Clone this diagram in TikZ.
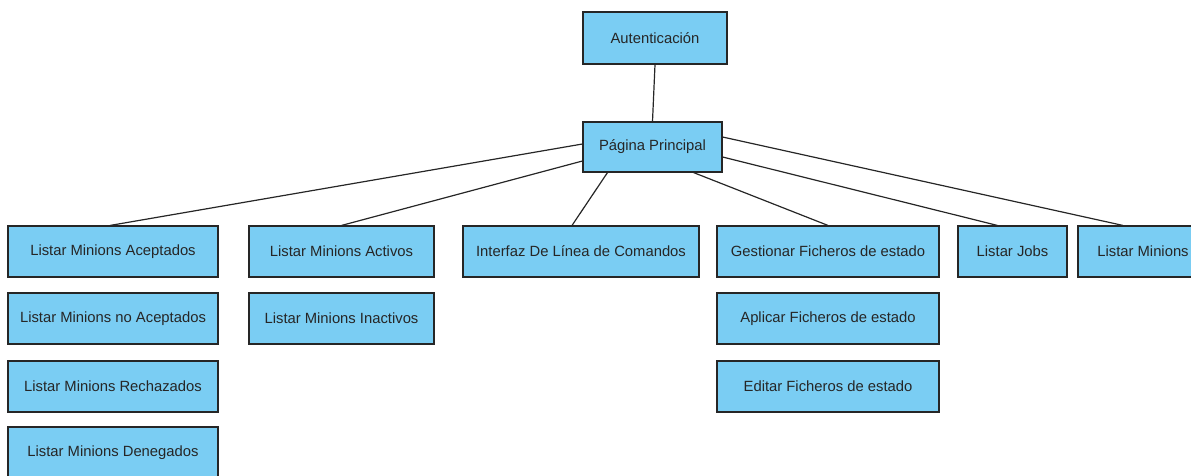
\documentclass[tikz,border=0pt]{standalone}
\usepackage{fontspec}
\setmainfont{Liberation Sans}
\definecolor{cajaazul}{RGB}{122,205,243}

\begin{document}
\begin{tikzpicture}[x=1pt, y=-1pt,
    caja/.style={draw=black!85, line width=1.1pt, fill=cajaazul, inner sep=0pt,
                 minimum height=51pt, text=black!85, font=\fontsize{14.8}{17}\selectfont},
    enlace/.style={draw=black!85, line width=1.2pt}]
  \useasboundingbox (0,0) rectangle (1191,476);
  \clip (0,0) rectangle (1191,476);

  % cabecera
  \node[caja, minimum width=144pt, minimum height=52pt] (aut) at (655,38) {Autenticación};
  \node[caja, minimum width=139pt, minimum height=50pt] (pp) at (652.5,147) {Página Principal};

  % primera fila
  \node[caja, minimum width=210pt] (aceptados) at (113,251.5) {Listar Minions Aceptados};
  \node[caja, minimum width=185pt] (activos) at (341.5,251.5) {Listar Minions Activos};
  \node[caja, minimum width=236pt] (cli) at (581,251.5) {Interfaz De Línea de Comandos};
  \node[caja, minimum width=222pt] (gestionar) at (828,251.5) {Gestionar Ficheros de estado};
  \node[caja, minimum width=109pt] (jobs) at (1012.5,251.5) {Listar Jobs};
  \node[caja, minimum width=130pt] (minions) at (1143,251.5) {Listar Minions};

  % columnas
  \node[caja, minimum width=210pt] (noaceptados) at (113,318.5) {Listar Minions no Aceptados};
  \node[caja, minimum width=210pt] (rechazados) at (113,386.5) {Listar Minions Rechazados};
  \node[caja, minimum width=210pt] (denegados) at (113,452.5) {Listar Minions Denegados};
  \node[caja, minimum width=185pt] (inactivos) at (341.5,318.5) {Listar Minions Inactivos};
  \node[caja, minimum width=222pt] (aplicar) at (828,318.5) {Aplicar Ficheros de estado};
  \node[caja, minimum width=222pt] (editar) at (828,386.5) {Editar Ficheros de estado};

  \draw[enlace] (aut.south) -- (pp.north);
  \draw[enlace] ([yshift=3pt]pp.west) -- ([xshift=-3pt]aceptados.north);
  \draw[enlace] ([yshift=-14pt]pp.west) -- (activos.north);
  \draw[enlace] ([xshift=-45pt]pp.south) -- ([xshift=-9pt]cli.north);
  \draw[enlace] ([xshift=41pt]pp.south) -- (gestionar.north);
  \draw[enlace] ([yshift=-10pt]pp.east) -- ([xshift=-15pt]jobs.north);
  \draw[enlace] ([yshift=10pt]pp.east) -- ([xshift=-20pt]minions.north);
\end{tikzpicture}
\end{document}
